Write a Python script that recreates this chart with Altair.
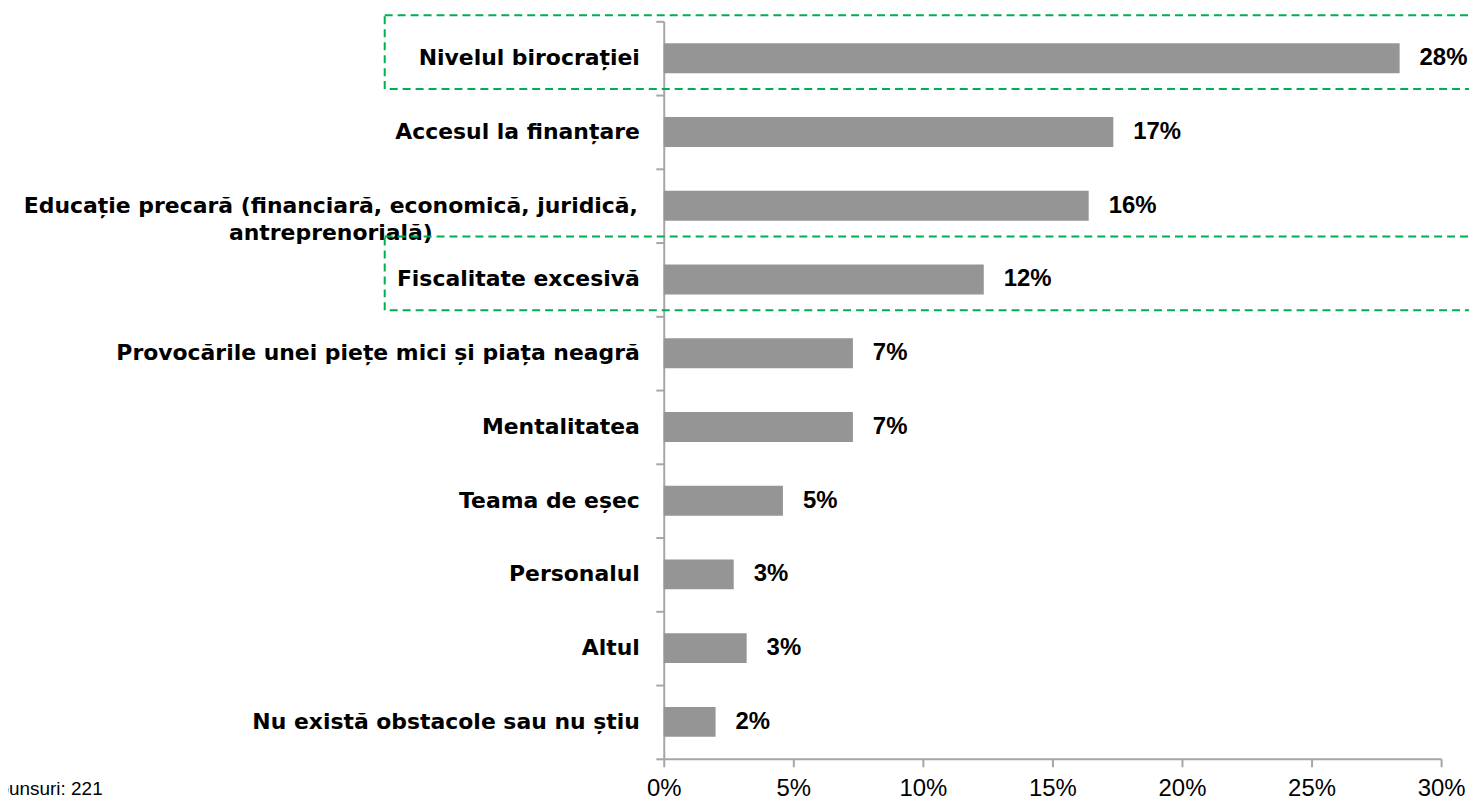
import altair as alt
import pandas as pd

categories = [
    "Nivelul birocrației",
    "Accesul la finanțare",
    "Educație precară (financiară, economică, juridică,\nantreprenorială)",
    "Fiscalitate excesivă",
    "Provocările unei piețe mici și piața neagră",
    "Mentalitatea",
    "Teama de eșec",
    "Personalul",
    "Altul",
    "Nu există obstacole sau nu știu",
]
values_pct = [28.4, 17.35, 16.4, 12.35, 7.3, 7.3, 4.6, 2.7, 3.2, 2.0]
value_labels = ["28%", "17%", "16%", "12%", "7%", "7%", "5%", "3%", "3%", "2%"]
highlighted = ["Nivelul birocrației", "Fiscalitate excesivă"]
x_ticks = [0, 0.05, 0.10, 0.15, 0.20, 0.25, 0.30]
note_text = ["Număr de răspunsuri: 221"]

df = pd.DataFrame({
    "cat": categories,
    "value": [v / 100 for v in values_pct],
    "vlabel": value_labels,
})
df["multi"] = df["cat"].str.contains("\n")
df_single = df[~df["multi"]]
df_multi = df[df["multi"]]
df_boxes = df[df["cat"].isin(highlighted)]
df_note = pd.DataFrame({"note": note_text})

AXIS_GRAY = "#A6A6A6"

y_enc = alt.Y(
    "cat:N",
    sort=categories,
    scale=alt.Scale(domain=categories, paddingInner=0, paddingOuter=0),
    axis=alt.Axis(
        labels=False, title=None, grid=False,
        domainColor=AXIS_GRAY, domainWidth=2,
        tickColor=AXIS_GRAY, tickWidth=2, tickSize=8,
        tickBand="extent",
    ),
)

x_enc = alt.X(
    "value:Q",
    scale=alt.Scale(domain=[0, 0.3], nice=False),
    axis=alt.Axis(
        values=x_ticks, format=".0%", title=None, grid=False,
        labelFont="Liberation Sans", labelFontSize=24, labelColor="#000000",
        labelFlush=False, labelPadding=10,
        domainColor=AXIS_GRAY, domainWidth=2,
        tickColor=AXIS_GRAY, tickWidth=2, tickSize=8,
    ),
)

bars = alt.Chart(df).mark_bar(size=30, color="#959595").encode(y=y_enc, x=x_enc)

vals = alt.Chart(df).mark_text(
    align="left", baseline="middle", dx=20,
    font="Liberation Sans", fontWeight="bold", fontSize=24, color="#000000",
).encode(y=y_enc, x=x_enc, text="vlabel:N")

cat_single = alt.Chart(df_single).mark_text(
    align="right", baseline="middle",
    font="DejaVu Sans", fontWeight="bold", fontSize=22, color="#000000",
).encode(y=y_enc, x=alt.value(-24), text="cat:N")

cat_multi = alt.Chart(df_multi).mark_text(
    align="center", baseline="middle", lineBreak="\n", lineHeight=27,
    font="DejaVu Sans", fontWeight="bold", fontSize=22, color="#000000",
).encode(y=y_enc, x=alt.value(-334), text="cat:N")

boxes = alt.Chart(df_boxes).mark_rect(
    fillOpacity=0, stroke="#00B050", strokeWidth=2, strokeDash=[8, 5],
    yOffset=-6, y2Offset=-1,
).encode(y=y_enc, x=alt.value(-280), x2=alt.value(840))

note = alt.Chart(df_note).mark_text(
    align="right", baseline="middle",
    font="Liberation Sans", fontSize=19, color="#000000",
).encode(x=alt.value(-563), y=alt.value(770), text="note:N")

chart = alt.layer(bars, vals, cat_single, cat_multi, boxes, note).properties(
    width=780,
    height=740,
    autosize=alt.AutoSizeParams(type="none"),
    padding={"left": 658, "top": 12, "right": 28, "bottom": 45},
).configure_view(stroke=None)

chart.save("out.html", embed_options={"renderer": "svg", "actions": False})
